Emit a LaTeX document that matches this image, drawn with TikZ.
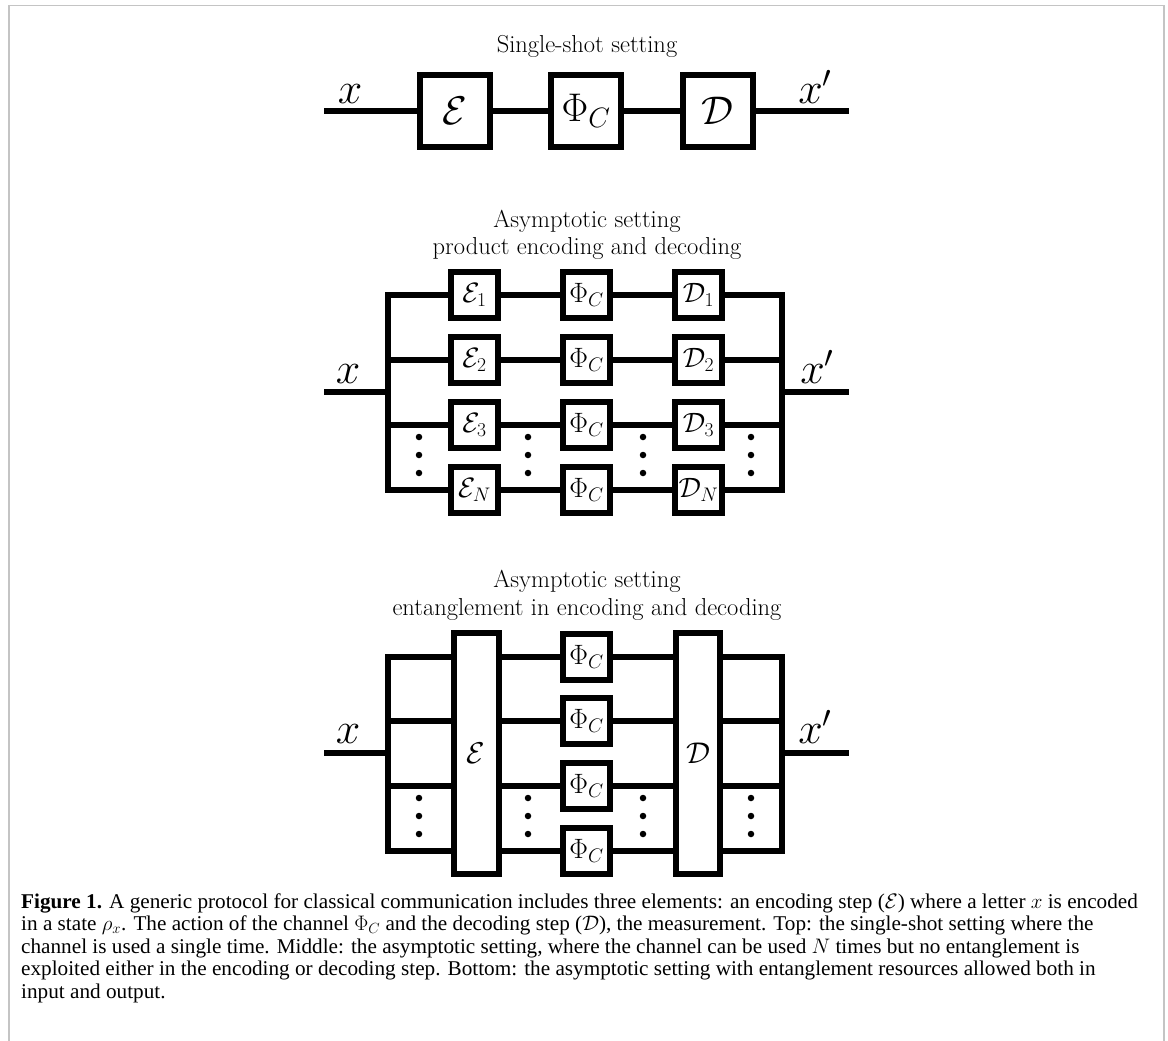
\RequirePackage{fix-cm}
\documentclass[tikz,border=0pt]{standalone}
\usepackage{fontspec}
\newfontfamily\capfont[FakeStretch=1.01]{Liberation Serif}
\definecolor{framegrey}{RGB}{196,196,196}

\begin{document}
\begin{tikzpicture}[x=1pt,y=-1pt,
  wire/.style={line width=6pt, line join=miter},
  bigbox/.style={draw, line width=6pt, fill=white, inner sep=0pt,
    minimum width=70pt, minimum height=71pt, font=\fontsize{40}{48}\selectfont},
  smallbox/.style={draw, line width=6pt, fill=white, inner sep=0pt,
    minimum size=46.5pt, font=\fontsize{28}{34}\selectfont},
  tallbox/.style={draw, line width=6pt, fill=white, inner sep=0pt,
    minimum width=45pt, minimum height=241pt, font=\fontsize{30}{36}\selectfont},
  title/.style={anchor=base, inner sep=0pt, font=\fontsize{24.5}{29}\selectfont},
  io/.style={anchor=base, inner sep=0pt, font=\fontsize{44}{50}\selectfont},
  vdot/.style={circle, fill, inner sep=0pt, minimum size=6.5pt}]

\useasboundingbox (0,0) rectangle (1168,1041);

% outer frame, open at the bottom
\draw[framegrey, line width=1.8pt] (9,1041) -- (9,5.5) -- (1164.3,5.5) -- (1164.3,1041);

% ---------------- single-shot setting ----------------
\node[title] (t1) at (587,53) {Single-shot setting};
\node[bigbox] (tE) at (455,111) {$\mathcal{E}$};
\node[bigbox] (tP) at (586,111) {$\Phi_C$};
\node[bigbox] (tD) at (717.5,111) {$\mathcal{D}$};
\coordinate (tin) at (324,111);
\coordinate (tout) at (849,111);
\draw[wire] (tin) -- (tE);
\draw[wire] (tE) -- (tP);
\draw[wire] (tP) -- (tD);
\draw[wire] (tD) -- (tout);
\node[io] (tx) at (350,103) {$x$};
\node[io] (txp) at (815,103) {$x'$};

% ---------------- product encoding and decoding ----------------
\node[title] (m1) at (587,227) {Asymptotic setting};
\node[title] (m2) at (587,254) {product encoding and decoding};
\foreach \y/\s [count=\i] in {295/1,360/2,425/3,490/N} {
  \node[smallbox] (mE\i) at (474.5,\y) {$\mathcal{E}_{\s}$};
  \node[smallbox] (mP\i) at (586.5,\y) {$\Phi_C$};
  \node[smallbox] (mD\i) at (698.5,\y) {$\mathcal{D}_{\s}$};
  \coordinate (mL\i) at (388,\y);
  \coordinate (mR\i) at (781.5,\y);
}
\foreach \i in {1,...,4} {
  \draw[wire] (mE\i) -- (mP\i);
  \draw[wire] (mP\i) -- (mD\i);
}
\draw[wire] (mE1.west) -- (mL1) -- (mL4) -- (mE4.west);
\draw[wire] (mL2) -- (mE2.west);
\draw[wire] (mL3) -- (mE3.west);
\draw[wire] (mD1.east) -- (mR1) -- (mR4) -- (mD4.east);
\draw[wire] (mD2.east) -- (mR2);
\draw[wire] (mD3.east) -- (mR3);
\coordinate (min) at (324,392);
\coordinate (mout) at (849,392);
\draw[wire] (min) -- (min -| mL1);
\draw[wire] (mout -| mR1) -- (mout);
\node[io] (mx) at (348,383) {$x$};
\node[io] (mxp) at (817,383) {$x'$};
\foreach \x [count=\c] in {419,528,643,751} {
  \foreach \y [count=\k] in {437,455,473} {
    \node[vdot] (md\c\k) at (\x,\y) {};
  }
}

% ---------------- entangled encoding and decoding ----------------
\node[title] (b1) at (587,587) {Asymptotic setting};
\node[title] (b2) at (587,615) {entanglement in encoding and decoding};
\node[tallbox] (bE) at (476,753.5) {$\mathcal{E}$};
\node[tallbox, minimum width=44pt] (bD) at (698,753.5) {$\mathcal{D}$};
\foreach \y [count=\i] in {657,721,786,851} {
  \node[smallbox] (bP\i) at (586.5,\y) {$\Phi_C$};
  \coordinate (bL\i) at (388,\y);
  \coordinate (bR\i) at (782,\y);
  \draw[wire] (bE.east |- bP\i) -- (bP\i);
  \draw[wire] (bP\i) -- (bD.west |- bP\i);
}
\draw[wire] (bE.west |- bL1) -- (bL1) -- (bL4) -- (bE.west |- bL4);
\draw[wire] (bL2) -- (bE.west |- bL2);
\draw[wire] (bL3) -- (bE.west |- bL3);
\draw[wire] (bD.east |- bR1) -- (bR1) -- (bR4) -- (bD.east |- bR4);
\draw[wire] (bD.east |- bR2) -- (bR2);
\draw[wire] (bD.east |- bR3) -- (bR3);
\coordinate (bin) at (324,753);
\coordinate (bout) at (849,753);
\draw[wire] (bin) -- (bin -| bL1);
\draw[wire] (bout -| bR1) -- (bout);
\node[io] (bx) at (348,743) {$x$};
\node[io] (bxp) at (815,743) {$x'$};
\foreach \x [count=\c] in {419,528,643,751} {
  \foreach \y [count=\k] in {798,816,834} {
    \node[vdot] (bd\c\k) at (\x,\y) {};
  }
}

% ---------------- caption (base anchor sits on the last line) ----------------
\node[anchor=base west, align=left, inner sep=0pt,
      font=\capfont\fontsize{21}{22.5}\selectfont] (cap) at (21,998)
{\textbf{Figure 1.} A generic protocol for classical communication includes three elements: an encoding step ($\mathcal{E}$) where a letter $x$ is encoded\\
in a state $\rho_x$. The action of the channel $\Phi_C$ and the decoding step ($\mathcal{D}$), the measurement. Top: the single-shot setting where the\\
channel is used a single time. Middle: the asymptotic setting, where the channel can be used $N$ times but no entanglement is\\
exploited either in the encoding or decoding step. Bottom: the asymptotic setting with entanglement resources allowed both in\\
input and output.};
\end{tikzpicture}
\end{document}
